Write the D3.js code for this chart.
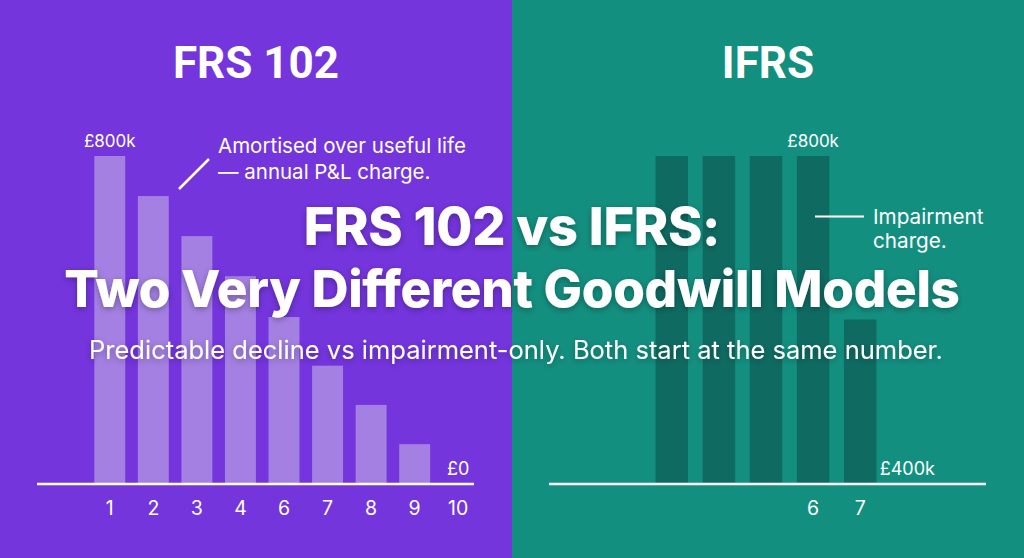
<!DOCTYPE html>
<html><head><meta charset="utf-8">
<script src="https://cdn.jsdelivr.net/npm/d3@7"></script>
<style>html,body{margin:0;padding:0;background:#7435DD;}svg{display:block;}</style>
</head><body>
<script>
// ---- data ----
const frsYears = ["1","2","3","4","6","7","8","9","10"];
const frsValues = [800, 702, 604, 506, 406, 287, 191, 95, 0]; // £k carrying amount
const ifrsSlots = ["1","2","3","4","5","6","7","8","9"];
const ifrsYears = ["3","4","5","6","7"];
const ifrsValues = [800, 800, 800, 800, 400];
const ifrsTickLabels = ["6","7"];
const panelTitles = ["FRS 102", "IFRS"];
const titleLines = ["FRS 102 vs IFRS:", "Two Very Different Goodwill Models"];
const subtitle = "Predictable decline vs impairment-only. Both start at the same number.";
const frsNote = ["Amortised over useful life", "— annual P&L charge."];
const ifrsNote = ["Impairment", "charge."];

const W = 1024, H = 558;
const svg = d3.select("body").append("svg").attr("width", W).attr("height", H);
const defs = svg.append("defs");
const f = defs.append("filter").attr("id","sh").attr("x","-10%").attr("y","-30%").attr("width","120%").attr("height","160%");
f.append("feDropShadow").attr("dx",0).attr("dy",2).attr("stdDeviation",3).attr("flood-color","#000").attr("flood-opacity",0.3);

svg.append("rect").attr("x",0).attr("y",0).attr("width",512).attr("height",H).attr("fill","#7435DD");
svg.append("rect").attr("x",512).attr("y",0).attr("width",512).attr("height",H).attr("fill","#138F80");

const y = d3.scaleLinear().domain([0, 800]).range([483, 156]);
const fmt = v => v === 0 ? "£0" : "£" + v + "k";

// ---- left: FRS 102 ----
const xL = d3.scaleBand().domain(frsYears).range([88, 480]).paddingInner(0.29).paddingOuter(0.145);
svg.append("g").selectAll("rect").data(frsYears).join("rect")
  .attr("x", d => xL(d)).attr("width", xL.bandwidth())
  .attr("y", (d,i) => y(frsValues[i])).attr("height", (d,i) => y(0) - y(frsValues[i]))
  .attr("fill", "#A480E2");

const axL = svg.append("g").attr("transform","translate(0,484)")
  .call(d3.axisBottom(xL).tickSize(0).tickPadding(17));
axL.select(".domain").remove();
axL.selectAll("text").attr("fill","#fff").attr("font-family","Inter, 'Noto Sans', sans-serif").attr("font-size",19.5);
svg.append("line").attr("x1",37).attr("x2",474).attr("y1",484).attr("y2",484).attr("stroke","#fff").attr("stroke-width",2.5);

// ---- right: IFRS ----
const xR = d3.scaleBand().domain(ifrsSlots).range([554, 978]).paddingInner(0.31).paddingOuter(0.155);
svg.append("g").selectAll("rect").data(ifrsYears).join("rect")
  .attr("x", d => xR(d)).attr("width", xR.bandwidth())
  .attr("y", (d,i) => y(ifrsValues[i])).attr("height", (d,i) => y(0) - y(ifrsValues[i]))
  .attr("fill", "#0F6B62");
const axR = svg.append("g").attr("transform","translate(0,484)")
  .call(d3.axisBottom(xR).tickValues(ifrsTickLabels).tickSize(0).tickPadding(17));
axR.select(".domain").remove();
axR.selectAll("text").attr("fill","#fff").attr("font-family","Inter, 'Noto Sans', sans-serif").attr("font-size",19.5);
svg.append("line").attr("x1",549).attr("x2",986).attr("y1",484).attr("y2",484).attr("stroke","#fff").attr("stroke-width",2.5);

// value labels
const lab = (x, yy, t, fs) => svg.append("text").attr("x",x).attr("y",yy).attr("text-anchor","middle")
  .attr("fill","#fff").attr("font-family","Inter, 'Noto Sans', sans-serif").attr("font-size",fs).text(t);
lab(xL(frsYears[0]) + xL.bandwidth()/2, y(frsValues[0]) - 9, fmt(frsValues[0]), 17);
lab(xL("10") + xL.bandwidth()/2, y(0) - 8, fmt(frsValues[8]), 18);
lab(xR("6") + xR.bandwidth()/2, y(ifrsValues[3]) - 9, fmt(ifrsValues[3]), 17);
lab(xR("8") + xR.bandwidth()/2, y(0) - 8, fmt(ifrsValues[4]), 18);

// panel titles
[256, 768].forEach((cx, i) => {
  svg.append("text").attr("x", cx).attr("y", 78).attr("text-anchor","middle")
    .attr("fill","#fff").attr("font-family","Roboto, Inter, sans-serif").attr("font-weight",700)
    .attr("font-size",44).text(panelTitles[i]);
});

// annotations
svg.append("line").attr("x1",179).attr("y1",189).attr("x2",209).attr("y2",159).attr("stroke","#fff").attr("stroke-width",2.5);
frsNote.forEach((t,i) => svg.append("text").attr("x",218).attr("y",153 + i*26)
  .attr("fill","#fff").attr("font-family","Inter, 'Noto Sans', sans-serif").attr("font-size",20.5).text(t));
svg.append("line").attr("x1",815).attr("y1",216.5).attr("x2",864).attr("y2",216.5).attr("stroke","#fff").attr("stroke-width",2);
ifrsNote.forEach((t,i) => svg.append("text").attr("x",873).attr("y",224 + i*24)
  .attr("fill","#fff").attr("font-family","Inter, 'Noto Sans', sans-serif").attr("font-size",20.7).text(t));

// main title
const tg = svg.append("g").attr("filter","url(#sh)");
[[245, 52.2], [307, 51.2]].forEach(([by, fs], i) => {
  tg.append("text").attr("x",512).attr("y",by).attr("text-anchor","middle")
    .attr("fill","#fff").attr("font-family","Inter, sans-serif").attr("font-weight",800)
    .attr("font-size",fs).attr("letter-spacing",-0.3).text(titleLines[i]);
});
tg.append("text").attr("x",516).attr("y",359).attr("text-anchor","middle")
  .attr("fill","#fff").attr("font-family","Inter, 'Noto Sans', sans-serif").attr("font-weight",400)
  .attr("font-size",25.5).text(subtitle);
</script>
</body></html>
